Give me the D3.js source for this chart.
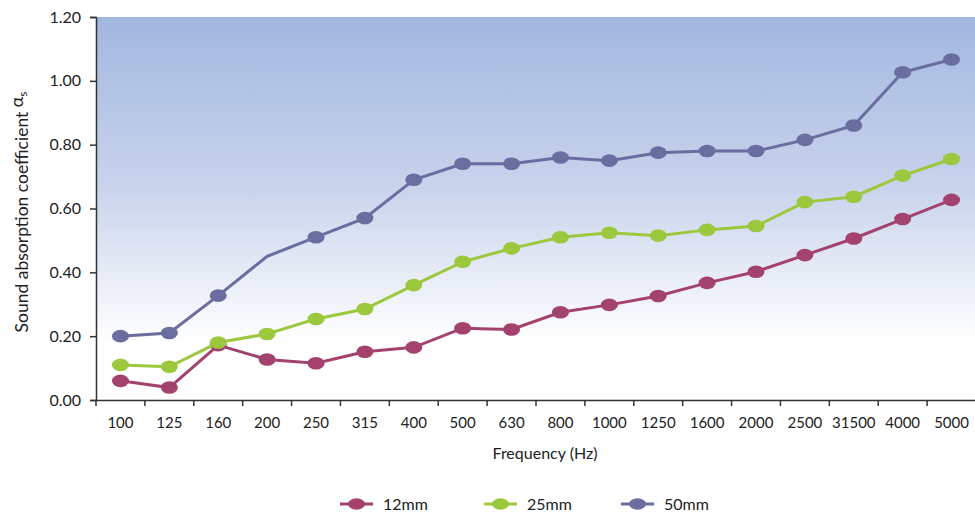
<!DOCTYPE html>
<html><head><meta charset="utf-8">
<script src="https://cdn.jsdelivr.net/npm/d3@7"></script>
<style>body{margin:0;background:#fff}svg{display:block}text{font-family:Lato,"Open Sans",sans-serif;fill:#222}</style>
</head><body><svg id="c" width="975" height="516"></svg>
<script>
const categories = ["100","125","160","200","250","315","400","500","630","800","1000","1250","1600","2000","2500","31500","4000","5000"];
const series12 = [0.06,0.039,0.172,0.127,0.115,0.151,0.165,0.225,0.221,0.275,0.298,0.326,0.367,0.402,0.454,0.506,0.567,0.627];
const series25 = [0.11,0.104,0.18,0.207,0.254,0.285,0.36,0.433,0.475,0.51,0.524,0.515,0.533,0.545,0.62,0.637,0.703,0.755];
const series50 = [0.20,0.21,0.327,0.45,0.51,0.57,0.69,0.74,0.74,0.76,0.75,0.775,0.78,0.78,0.815,0.86,1.027,1.067];
const noMarker50 = ["200"];
const yTicks = [0,0.2,0.4,0.6,0.8,1.0,1.2];
const seriesNames = ["12mm","25mm","50mm"];
const colors = ["#a4426e","#9cc83e","#6a6da0"];

const svg = d3.select("#c");
const L = 96, R = 976, T = 17, B = 400;
const x = d3.scaleBand().domain(categories).range([L, R]);
const y = d3.scaleLinear().domain([0,1.2]).range([B, T]);

const defs = svg.append("defs");
const g = defs.append("linearGradient").attr("id","bg").attr("x1",0).attr("y1",0).attr("x2",0).attr("y2",1);
g.append("stop").attr("offset","0%").attr("stop-color","#a2b7df");
g.append("stop").attr("offset","45%").attr("stop-color","#c9d4ec");
g.append("stop").attr("offset","85%").attr("stop-color","#ffffff");
g.append("stop").attr("offset","100%").attr("stop-color","#ffffff");
svg.append("rect").attr("x",L).attr("y",T).attr("width",R-L).attr("height",B-T).attr("fill","url(#bg)");

// axes
const yAxis = svg.append("g").attr("transform",`translate(${L},0)`)
  .call(d3.axisLeft(y).tickValues(yTicks).tickFormat(d3.format(".2f")).tickSize(6).tickPadding(9));
yAxis.selectAll("text").style("font-size","16px").attr("fill","#222");
const xAxis = svg.append("g").attr("transform",`translate(0,${B})`)
  .call(d3.axisBottom(x).tickSize(0).tickPadding(17));
xAxis.selectAll("text").style("font-size","15px").attr("fill","#222");
[yAxis,xAxis].forEach(a=>{a.selectAll("path,line").attr("stroke","#333").attr("stroke-width",1.5);});
// x tick marks at band boundaries
const bounds = categories.map(c=>x(c)).concat([R]);
svg.append("g").selectAll("line").data(bounds).join("line")
  .attr("x1",d=>d).attr("x2",d=>d).attr("y1",B).attr("y2",B+6).attr("stroke","#333").attr("stroke-width",1.5);

// titles
svg.append("text").attr("x",545).attr("y",459).attr("text-anchor","middle").style("font-size","16px").text("Frequency (Hz)");
const yt = svg.append("text").attr("transform","translate(28,212) rotate(-90)").attr("text-anchor","middle").style("font-size","17.5px");
yt.append("tspan").text("Sound absorption coefficient ");
yt.append("tspan").text("α").attr("dy","-5");
yt.append("tspan").text("s").style("font-size","12px").attr("dy","4");

// series
const all = [series12, series25, series50];
const line = d3.line().x((d,i)=>x(categories[i])+x.bandwidth()/2).y(d=>y(d));
all.forEach((s,k)=>{
  svg.append("path").datum(s).attr("d",line).attr("fill","none").attr("stroke",colors[k]).attr("stroke-width",3);
  svg.append("g").selectAll("ellipse").data(s.map((v,i)=>({v,c:categories[i]})).filter(d=>!(k===2 && noMarker50.includes(d.c))))
    .join("ellipse").attr("cx",d=>x(d.c)+x.bandwidth()/2).attr("cy",d=>y(d.v)).attr("rx",8.5).attr("ry",6.3).attr("fill",colors[k]);
});

// legend
const legX = [340, 484, 621];
seriesNames.forEach((n,k)=>{
  const lg = svg.append("g").attr("transform",`translate(${legX[k]},504)`);
  lg.append("line").attr("x1",0).attr("x2",33).attr("stroke",colors[k]).attr("stroke-width",3);
  lg.append("ellipse").attr("cx",16.5).attr("rx",8.5).attr("ry",5.8).attr("fill",colors[k]);
  lg.append("text").attr("x",43).attr("y",5.5).style("font-size","16px").text(n);
});
</script></body></html>
